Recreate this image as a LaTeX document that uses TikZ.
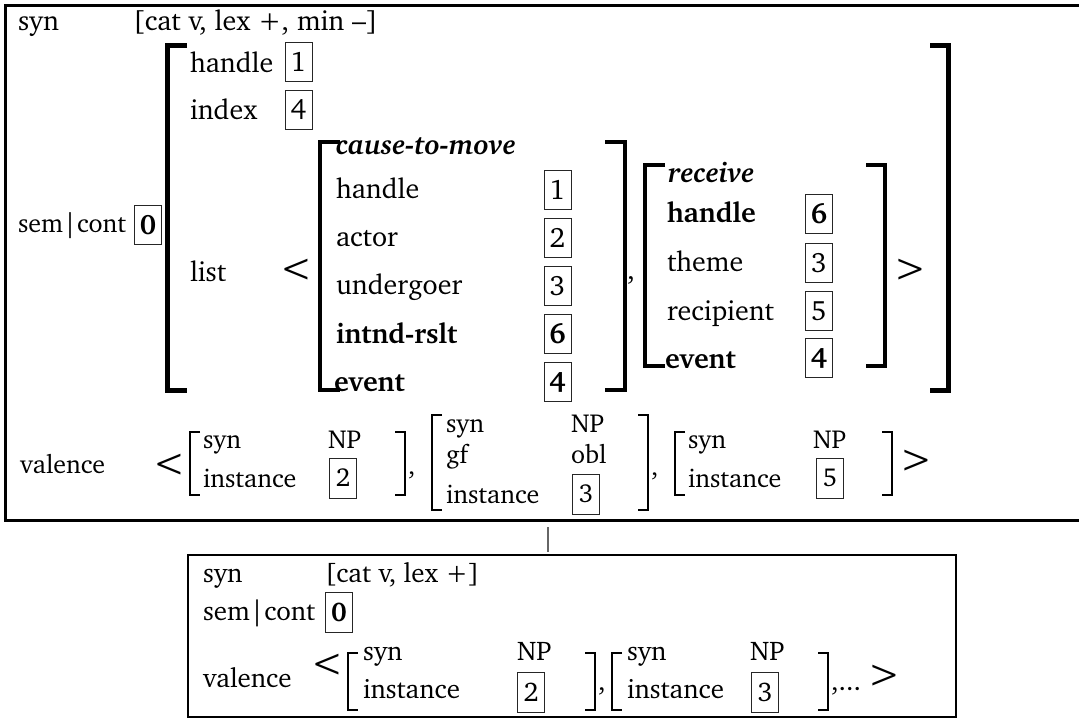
\documentclass[tikz,border=0pt]{standalone}
\usepackage[T1]{fontenc}
\usepackage{charter}
\newcommand\fsA{\fontsize{28}{30}\selectfont}
\newcommand\fsB{\fontsize{26}{28}\selectfont}
\newcommand\fsC{\fontsize{27}{29}\selectfont}
\newcommand\semcont{sem\kern0.5pt\textbar\kern0.5pt cont}
\begin{document}
\begin{tikzpicture}[x=1pt,y=-1pt,
  every node/.style={inner sep=0pt, outer sep=0pt, anchor=base west, font=\fsA},
  val/.style={font=\fsB},
  bot/.style={font=\fsC},
  tag/.style={draw=black!85, line width=0.9pt, minimum width=27pt, minimum height=39pt, anchor=center},
  vtag/.style={tag, font=\fsB, minimum height=40pt},
  btag/.style={tag, font=\fsC, minimum height=40pt},
  angl/.style={anchor=center, font=\fontsize{40}{40}\selectfont},
  bigbr/.style={line width=5pt},
  midbr/.style={line width=4.5pt},
  smallbr/.style={line width=2pt},
  frame/.style={line width=3pt},
  bframe/.style={line width=2.5pt},
  conn/.style={line width=1.5pt, black!60}]
\useasboundingbox (0,0) rectangle (1079,719);
% outer frame (open to the right)
\draw[frame] (1082,6) -- (5,6) -- (5,520) -- (1082,520);
% syn row
\node (s1) at (18,31) {syn};
\node (s1v) at (133,31) {[cat v, lex +, min \textendash]};
\node[font=\fsB] (sc) at (18,233) {\semcont};
\node[tag, font=\fsA\bfseries] (t0) at (148,225) {0};
% big bracket
\draw[bigbr] (187,46) -- (167,46) -- (167,390) -- (187,390);
\node (h) at (190,73) {handle};
\node[tag] (th) at (298.5,62) {1};
\node (ix) at (190,120) {index};
\node[tag] (ti) at (298.5,110) {4};
\node (li) at (190,282) {list};
\node[angl] (la) at (296,270) {\textless};
% cause-to-move
\draw[midbr] (340,142) -- (320,142) -- (320,390) -- (340,390);
\node (c0) at (336,155) {\bfseries\itshape cause-to-move};
\node (c1) at (336,199) {handle};
\node[tag] (ct1) at (557.5,190) {1};
\node (c2) at (336,247) {actor};
\node[tag] (ct2) at (557.5,238) {2};
\node (c3) at (336,295) {undergoer};
\node[tag] (ct3) at (557.5,286) {3};
\node (c4) at (336,343) {\bfseries intnd-rslt};
\node[tag, font=\fsA\bfseries] (ct4) at (557.5,334) {6};
\node (c5) at (334,391) {\bfseries event};
\node[tag, font=\fsA\bfseries] (ct5) at (557.5,382) {4};
\draw[midbr] (605,142) -- (625,142) -- (625,390) -- (605,390);
\node (cm0) at (627,280) {,};
% receive
\draw[midbr] (665,165) -- (645,165) -- (645,366) -- (665,366);
\node (r0) at (668,183) {\bfseries\itshape receive};
\node (r1) at (667,223) {\bfseries handle};
\node[tag, font=\fsA\bfseries] (rt1) at (819,214) {6};
\node (r2) at (667,272) {theme};
\node[tag] (rt2) at (819,263) {3};
\node (r3) at (667,320) {recipient};
\node[tag] (rt3) at (819,311) {5};
\node (r4) at (665,368) {\bfseries event};
\node[tag, font=\fsA\bfseries] (rt4) at (819,358) {4};
\draw[midbr] (866,165) -- (885,165) -- (885,366) -- (866,366);
\node[angl] (ra) at (910,270) {\textgreater};
\draw[bigbr] (930,46) -- (948,46) -- (948,390) -- (930,390);
% valence row
\node[val] (v) at (20,473) {valence};
\node[angl] (va) at (169,465) {\textless};
\draw[smallbr] (200,432) -- (190,432) -- (190,495) -- (200,495);
\node[val] (v1a) at (203,448) {syn};
\node[val] (v1b) at (203,487) {instance};
\node[val] (v1c) at (328,448) {NP};
\node[vtag] (v1t) at (343,478) {2};
\draw[smallbr] (395,432) -- (405,432) -- (405,495) -- (395,495);
\node[val] (vc1) at (408,474) {,};
\draw[smallbr] (442,415) -- (432,415) -- (432,510) -- (442,510);
\node[val] (v2a) at (446,432) {syn};
\node[val] (v2b) at (446,463) {gf};
\node[val] (v2c) at (446,503) {instance};
\node[val] (v2d) at (571,432) {NP};
\node[val] (v2e) at (571,463) {obl};
\node[vtag] (v2t) at (586,494) {3};
\draw[smallbr] (638,415) -- (648,415) -- (648,510) -- (638,510);
\node[val] (vc2) at (651,475) {,};
\draw[smallbr] (685,432) -- (675,432) -- (675,495) -- (685,495);
\node[val] (v3a) at (688,448) {syn};
\node[val] (v3b) at (688,487) {instance};
\node[val] (v3c) at (813,448) {NP};
\node[vtag] (v3t) at (830,478) {5};
\draw[smallbr] (882,432) -- (892,432) -- (892,495) -- (882,495);
\node[angl] (vb) at (916,461) {\textgreater};
% connector
\coordinate (ca) at (548,527);
\coordinate (cb) at (548,552);
\draw[conn] (ca) -- (cb);
% bottom box
\draw[bframe] (188,555) rectangle (956,717);
\node[bot] (b1) at (203,582) {syn};
\node[bot] (b1v) at (325,582) {[cat v, lex +]};
\node[bot] (b2) at (203,620) {\semcont};
\node[btag, font=\fsC\bfseries] (b2t) at (339,612) {0};
\node[bot] (b3) at (203,687) {valence};
\node[angl] (ba) at (327,665) {\textless};
\draw[smallbr] (358,653) -- (348,653) -- (348,710) -- (358,710);
\node[bot] (b4a) at (363,660) {syn};
\node[bot] (b4b) at (363,698) {instance};
\node[bot] (b4c) at (517,660) {NP};
\node[btag] (b4t) at (531,692) {2};
\draw[smallbr] (585,653) -- (595,653) -- (595,710) -- (585,710);
\node[bot] (bc1) at (598,690) {,};
\draw[smallbr] (622,653) -- (612,653) -- (612,710) -- (622,710);
\node[bot] (b5a) at (627,660) {syn};
\node[bot] (b5b) at (627,698) {instance};
\node[bot] (b5c) at (750,660) {NP};
\node[btag] (b5t) at (765,692) {3};
\draw[smallbr] (818,653) -- (828,653) -- (828,710) -- (818,710);
\node[bot] (bc2) at (831,690) {,...};
\node[angl] (bb) at (884,676) {\textgreater};
\end{tikzpicture}
\end{document}
